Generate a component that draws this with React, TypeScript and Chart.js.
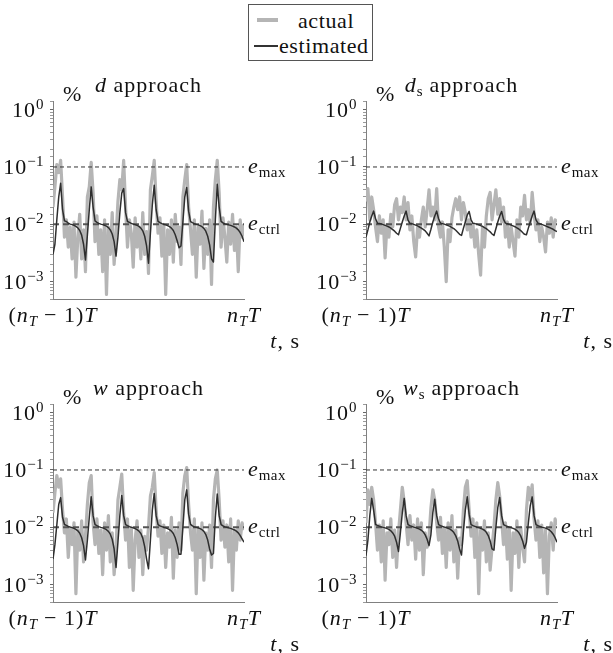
import React, { useEffect, useRef } from 'react';
import { Chart, registerables } from 'chart.js';

Chart.register(...registerables);

// ---- data -------------------------------------------------------------
const SAMPLES = 101;
// uniform time grid over one period, from (n_T - 1)T (0) to n_T T (1)
const TIME: number[] = Array.from({ length: SAMPLES }, (_, i) => i / (SAMPLES - 1));

const E_MAX = 0.1;
const E_CTRL = 0.01;
const Y_MIN = 0.0005;
const Y_MAX = 1.4125;
const Y_LABEL_VALUES = [1, 0.1, 0.01, 0.001];
const Y_LABEL_EXPONENTS = ['0', '\u22121', '\u22122', '\u22123'];

const D_ESTIMATED = [
  0.003, 0.0045, 0.012, 0.03, 0.052, 0.018, 0.0115, 0.0112, 0.0105, 0.0101,
  0.0099, 0.0096, 0.0092, 0.0087, 0.0078, 0.0065, 0.0045, 0.0024, 0.0065, 0.018,
  0.045, 0.02, 0.0115, 0.0108, 0.0104, 0.0101, 0.0099, 0.0096, 0.0093, 0.0088,
  0.008, 0.0068, 0.005, 0.0028, 0.006, 0.016, 0.035, 0.042, 0.016, 0.0112,
  0.0108, 0.0104, 0.0101, 0.0099, 0.0096, 0.0092, 0.0086, 0.0077, 0.0062, 0.0042,
  0.0021, 0.007, 0.022, 0.048, 0.018, 0.0113, 0.0107, 0.0103, 0.01, 0.0098,
  0.0095, 0.0091, 0.0086, 0.0078, 0.0066, 0.0052, 0.0039, 0.0042, 0.011, 0.03,
  0.044, 0.017, 0.0112, 0.0107, 0.0103, 0.01, 0.0098, 0.0095, 0.0091, 0.0085,
  0.0076, 0.0062, 0.0044, 0.0025, 0.0022, 0.012, 0.05, 0.02, 0.0113, 0.0106,
  0.0102, 0.01, 0.0098, 0.0096, 0.0093, 0.009, 0.0086, 0.008, 0.0072, 0.0062,
  0.005,
];
const D_ACTUAL = [
  0.02, 0.045, 0.11, 0.08, 0.13, 0.03, 0.006, 0.012, 0.004, 0.009,
  0.0025, 0.011, 0.0012, 0.006, 0.015, 0.0025, 0.008, 0.0015, 0.03, 0.045,
  0.12, 0.035, 0.005, 0.014, 0.003, 0.008, 0.0015, 0.012, 0.0006, 0.009,
  0.003, 0.016, 0.002, 0.006, 0.025, 0.06, 0.04, 0.13, 0.02, 0.004,
  0.012, 0.007, 0.0018, 0.013, 0.004, 0.009, 0.0025, 0.016, 0.003, 0.0075,
  0.0014, 0.04, 0.07, 0.13, 0.025, 0.007, 0.013, 0.0028, 0.01, 0.0006,
  0.008, 0.003, 0.012, 0.0022, 0.015, 0.005, 0.009, 0.002, 0.03, 0.06,
  0.11, 0.02, 0.008, 0.003, 0.012, 0.0012, 0.009, 0.0045, 0.017, 0.0017,
  0.0085, 0.003, 0.012, 0.0009, 0.02, 0.06, 0.13, 0.035, 0.004, 0.013,
  0.006, 0.0022, 0.011, 0.0045, 0.015, 0.0035, 0.009, 0.0015, 0.012, 0.006,
  0.01,
];

const DS_ESTIMATED = [
  0.006, 0.008, 0.011, 0.014, 0.017, 0.0125, 0.0105, 0.0104, 0.0102, 0.0099,
  0.0096, 0.0093, 0.009, 0.0086, 0.0081, 0.0076, 0.007, 0.0066, 0.0085, 0.011,
  0.014, 0.017, 0.0118, 0.0104, 0.0103, 0.01, 0.0097, 0.0094, 0.009, 0.0086,
  0.0082, 0.0077, 0.007, 0.0063, 0.0082, 0.011, 0.014, 0.017, 0.0125, 0.0105,
  0.0103, 0.0101, 0.0098, 0.0095, 0.0092, 0.0088, 0.0084, 0.0079, 0.0073, 0.0067,
  0.0064, 0.0085, 0.011, 0.0145, 0.0168, 0.012, 0.0104, 0.0103, 0.0101, 0.0098,
  0.0095, 0.0092, 0.0088, 0.0084, 0.0079, 0.0074, 0.0068, 0.0064, 0.0084, 0.011,
  0.014, 0.0168, 0.0122, 0.0105, 0.0103, 0.01, 0.0097, 0.0094, 0.0091, 0.0087,
  0.0083, 0.0078, 0.0072, 0.0067, 0.0066, 0.0086, 0.011, 0.014, 0.017, 0.012,
  0.0105, 0.0103, 0.01, 0.0097, 0.0094, 0.0091, 0.0088, 0.0085, 0.0082, 0.0078,
  0.0075,
];
const DS_ACTUAL = [
  0.025, 0.042, 0.012, 0.03, 0.018, 0.009, 0.005, 0.014, 0.007, 0.012,
  0.0026, 0.01, 0.006, 0.015, 0.009, 0.022, 0.028, 0.012, 0.02, 0.016,
  0.03, 0.012, 0.024, 0.008, 0.014, 0.005, 0.0027, 0.009, 0.006, 0.012,
  0.02, 0.009, 0.018, 0.04, 0.014, 0.02, 0.012, 0.042, 0.009, 0.006,
  0.011, 0.004, 0.001, 0.008, 0.005, 0.013, 0.02, 0.028, 0.018, 0.03,
  0.012, 0.024, 0.016, 0.008, 0.012, 0.006, 0.01, 0.004, 0.008, 0.003,
  0.0013, 0.009, 0.004, 0.014, 0.028, 0.036, 0.012, 0.022, 0.04, 0.015,
  0.028, 0.011, 0.02, 0.006, 0.011, 0.004, 0.009, 0.005, 0.0028, 0.012,
  0.006, 0.02, 0.014, 0.032, 0.012, 0.018, 0.01, 0.036, 0.015, 0.008,
  0.012, 0.005, 0.009, 0.006, 0.0033, 0.011, 0.007, 0.013, 0.006, 0.012,
  0.011,
];

const W_ESTIMATED = [
  0.0028, 0.005, 0.011, 0.025, 0.033, 0.015, 0.0112, 0.0108, 0.0104, 0.0101,
  0.0099, 0.0096, 0.0092, 0.0087, 0.0079, 0.0066, 0.0048, 0.0027, 0.006, 0.015,
  0.034, 0.016, 0.0112, 0.0107, 0.0103, 0.01, 0.0098, 0.0095, 0.0091, 0.0085,
  0.0076, 0.0062, 0.0042, 0.002, 0.0055, 0.016, 0.036, 0.016, 0.0112, 0.0107,
  0.0103, 0.01, 0.0098, 0.0095, 0.0091, 0.0086, 0.0078, 0.0065, 0.0046, 0.0028,
  0.0019, 0.006, 0.02, 0.039, 0.016, 0.0112, 0.0106, 0.0103, 0.01, 0.0098,
  0.0095, 0.0091, 0.0086, 0.0078, 0.0066, 0.005, 0.0034, 0.0034, 0.01, 0.03,
  0.045, 0.017, 0.0113, 0.0106, 0.0102, 0.01, 0.0098, 0.0095, 0.0091, 0.0085,
  0.0075, 0.006, 0.0042, 0.0033, 0.0035, 0.015, 0.038, 0.016, 0.0112, 0.0106,
  0.0102, 0.01, 0.0098, 0.0096, 0.0093, 0.009, 0.0086, 0.008, 0.0072, 0.0063,
  0.0055,
];
const W_ACTUAL = [
  0.018, 0.04, 0.08, 0.05, 0.07, 0.02, 0.008, 0.014, 0.003, 0.01,
  0.005, 0.012, 0.0007, 0.009, 0.004, 0.013, 0.0025, 0.007, 0.025, 0.06,
  0.08, 0.012, 0.005, 0.014, 0.0035, 0.009, 0.0015, 0.012, 0.004, 0.016,
  0.0025, 0.008, 0.0015, 0.004, 0.03, 0.05, 0.085, 0.018, 0.006, 0.014,
  0.002, 0.01, 0.0008, 0.006, 0.013, 0.003, 0.009, 0.0015, 0.007, 0.004,
  0.01, 0.035, 0.05, 0.09, 0.02, 0.007, 0.013, 0.0035, 0.011, 0.002,
  0.008, 0.0045, 0.015, 0.0013, 0.009, 0.003, 0.012, 0.004, 0.04, 0.08,
  0.11, 0.025, 0.008, 0.004, 0.014, 0.0007, 0.01, 0.003, 0.012, 0.0012,
  0.008, 0.004, 0.011, 0.002, 0.03, 0.07, 0.1, 0.03, 0.006, 0.013,
  0.0045, 0.011, 0.0025, 0.014, 0.0008, 0.009, 0.004, 0.013, 0.006, 0.012,
  0.009,
];

const WS_ESTIMATED = [
  0.0032, 0.006, 0.016, 0.032, 0.02, 0.0112, 0.0108, 0.0105, 0.0102, 0.01,
  0.0098, 0.0095, 0.0092, 0.0087, 0.008, 0.007, 0.0055, 0.0038, 0.008, 0.018,
  0.032, 0.016, 0.0112, 0.0107, 0.0104, 0.0101, 0.0099, 0.0096, 0.0093, 0.0089,
  0.0083, 0.0074, 0.0062, 0.0048, 0.0075, 0.018, 0.031, 0.016, 0.0112, 0.0107,
  0.0104, 0.0101, 0.0099, 0.0096, 0.0093, 0.0088, 0.0081, 0.0071, 0.0058, 0.0042,
  0.0033, 0.0085, 0.02, 0.034, 0.017, 0.0112, 0.0107, 0.0104, 0.0101, 0.0099,
  0.0096, 0.0093, 0.0089, 0.0082, 0.0072, 0.0058, 0.0042, 0.004, 0.01, 0.022,
  0.033, 0.016, 0.0112, 0.0107, 0.0104, 0.0101, 0.0099, 0.0096, 0.0093, 0.0088,
  0.0081, 0.0071, 0.0058, 0.0043, 0.0055, 0.012, 0.024, 0.034, 0.016, 0.0112,
  0.0107, 0.0104, 0.0101, 0.0099, 0.0097, 0.0094, 0.009, 0.0084, 0.0076, 0.0066,
  0.0055,
];
const WS_ACTUAL = [
  0.012, 0.045, 0.025, 0.05, 0.03, 0.012, 0.004, 0.011, 0.0025, 0.013,
  0.0012, 0.008, 0.005, 0.014, 0.003, 0.009, 0.002, 0.008, 0.02, 0.05,
  0.028, 0.012, 0.005, 0.016, 0.006, 0.011, 0.0028, 0.014, 0.004, 0.012,
  0.0015, 0.008, 0.0045, 0.007, 0.022, 0.045, 0.03, 0.012, 0.006, 0.015,
  0.0035, 0.01, 0.002, 0.012, 0.004, 0.016, 0.0025, 0.009, 0.0013, 0.0065,
  0.005, 0.02, 0.05, 0.065, 0.02, 0.007, 0.014, 0.003, 0.012, 0.0007,
  0.009, 0.004, 0.013, 0.0025, 0.008, 0.0018, 0.0045, 0.01, 0.03, 0.06,
  0.035, 0.014, 0.005, 0.012, 0.0028, 0.01, 0.0008, 0.008, 0.0035, 0.013,
  0.002, 0.01, 0.0045, 0.0025, 0.02, 0.05, 0.03, 0.055, 0.014, 0.006,
  0.013, 0.003, 0.011, 0.0016, 0.009, 0.0007, 0.007, 0.012, 0.004, 0.014,
  0.011,
];

// ---- rich text helper --------------------------------------------------
type Run = { t: string; it?: boolean; sub?: boolean; sup?: boolean };
const FONT_FAMILY = '"Liberation Serif", "DejaVu Serif", serif';
const BASE_SIZE = 22;
const SMALL_SIZE = 15;

function fontFor(r: Run) {
  const size = r.sub || r.sup ? SMALL_SIZE : BASE_SIZE;
  return `${r.it ? 'italic ' : ''}${size}px ${FONT_FAMILY}`;
}

function spacingFor(r: Run) {
  return r.sub || r.sup ? '0.4px' : '1px';
}

function drawRich(ctx: CanvasRenderingContext2D, runs: Run[], x: number, y: number, align: 'left' | 'center' | 'right') {
  const c = ctx as any;
  let w = 0;
  for (const r of runs) {
    ctx.font = fontFor(r);
    c.letterSpacing = spacingFor(r);
    w += ctx.measureText(r.t).width;
  }
  let cx = align === 'left' ? x : align === 'center' ? x - w / 2 : x - w;
  ctx.textAlign = 'left';
  ctx.textBaseline = 'alphabetic';
  for (const r of runs) {
    ctx.font = fontFor(r);
    c.letterSpacing = spacingFor(r);
    const dy = r.sub ? 4 : r.sup ? -8 : 0;
    ctx.fillText(r.t, cx, y + dy);
    cx += ctx.measureText(r.t).width;
  }
  c.letterSpacing = '0px';
}

const X_LEFT_LABEL: Run[] = [{ t: '(' }, { t: 'n', it: true }, { t: 'T', it: true, sub: true }, { t: ' \u2212 1)' }, { t: 'T', it: true }];
const X_RIGHT_LABEL: Run[] = [{ t: 'n', it: true }, { t: 'T', it: true, sub: true }, { t: 'T', it: true }];
const X_UNIT_LABEL: Run[] = [{ t: 't', it: true }, { t: ', s' }];
const EMAX_LABEL: Run[] = [{ t: 'e', it: true }, { t: 'max', sub: true }];
const ECTRL_LABEL: Run[] = [{ t: 'e', it: true }, { t: 'ctrl', sub: true }];

const PANELS: { title: Run[]; actual: number[]; estimated: number[]; left: number; top: number }[] = [
  { title: [{ t: 'd', it: true }, { t: ' approach' }], actual: D_ACTUAL, estimated: D_ESTIMATED, left: 0, top: 50 },
  { title: [{ t: 'd', it: true }, { t: 's', sub: true }, { t: ' approach' }], actual: DS_ACTUAL, estimated: DS_ESTIMATED, left: 313, top: 50 },
  { title: [{ t: 'w', it: true }, { t: ' approach' }], actual: W_ACTUAL, estimated: W_ESTIMATED, left: 0, top: 353 },
  { title: [{ t: 'w', it: true }, { t: 's', sub: true }, { t: ' approach' }], actual: WS_ACTUAL, estimated: WS_ESTIMATED, left: 313, top: 353 },
];

const CANVAS_W = 306;
const CANVAS_H = 303;

function Panel({ cfg }: { cfg: (typeof PANELS)[number] }) {
  const ref = useRef<HTMLCanvasElement>(null);
  useEffect(() => {
    const textPlugin = {
      id: 'panelText',
      afterDraw(chart: any) {
        const ctx: CanvasRenderingContext2D = chart.ctx;
        const ca = chart.chartArea;
        const xs = chart.scales.x;
        const ys = chart.scales.y;
        ctx.save();
        ctx.fillStyle = '#111';
        Y_LABEL_VALUES.forEach((v, i) => {
          const y = ys.getPixelForValue(v);
          drawRich(ctx, [{ t: '10' }, { t: Y_LABEL_EXPONENTS[i], sup: true }], ca.left - 9, y + 7, 'right');
        });
        const y1 = ys.getPixelForValue(1);
        drawRich(ctx, cfg.title, (ca.left + ca.right) / 2, y1 - 18, 'center');
        drawRich(ctx, [{ t: '%' }], ca.left + 10, y1 - 9, 'left');
        drawRich(ctx, EMAX_LABEL, ca.right + 4, ys.getPixelForValue(E_MAX) + 6, 'left');
        drawRich(ctx, ECTRL_LABEL, ca.right + 4, ys.getPixelForValue(E_CTRL) + 6, 'left');
        drawRich(ctx, X_LEFT_LABEL, xs.getPixelForValue(0), ca.bottom + 23, 'center');
        drawRich(ctx, X_RIGHT_LABEL, xs.getPixelForValue(1), ca.bottom + 23, 'center');
        drawRich(ctx, X_UNIT_LABEL, ca.right + 56, ca.bottom + 49, 'right');
        ctx.restore();
      },
    };
    const line = (vals: number[]) => TIME.map((x, i) => ({ x, y: vals[i] }));
    const flat = (v: number) => [{ x: 0, y: v }, { x: 1, y: v }];
    const chart = new Chart(ref.current!, {
      type: 'line',
      data: {
        datasets: [
          { label: 'e_max', data: flat(E_MAX), borderColor: '#333', borderWidth: 1, borderDash: [4, 3], pointRadius: 0, order: 1 },
          { label: 'estimated', data: line(cfg.estimated), borderColor: '#2e2e2e', borderWidth: 1.5, pointRadius: 0, borderJoinStyle: 'round', order: 2 },
          { label: 'e_ctrl', data: flat(E_CTRL), borderColor: '#555', borderWidth: 2, borderDash: [6, 4], pointRadius: 0, order: 3 },
          { label: 'actual', data: line(cfg.actual), borderColor: '#b5b5b5', borderWidth: 3.2, pointRadius: 0, borderJoinStyle: 'round', order: 4 },
        ] as any,
      },
      options: {
        animation: false,
        responsive: false,
        devicePixelRatio: 1,
        events: [],
        layout: { padding: { left: 53, right: 62, top: 51, bottom: 54 } },
        plugins: { legend: { display: false }, tooltip: { enabled: false } },
        scales: {
          x: {
            type: 'linear',
            min: 0,
            max: 1,
            grid: { display: false },
            border: { display: true, color: '#808080', width: 1 },
            ticks: { display: false },
            afterFit: (s: any) => { s.height = 0; },
          },
          y: {
            type: 'logarithmic',
            min: Y_MIN,
            max: Y_MAX,
            grid: {
              drawOnChartArea: false,
              drawTicks: true,
              tickLength: 3,
              tickColor: (c: any) => {
                const l = Math.log10(c.tick ? c.tick.value : 1);
                return Math.abs(l - Math.round(l)) < 1e-6 ? '#666' : '#9a9a9a';
              },
            },
            border: { display: true, color: '#808080', width: 1 },
            ticks: { display: false },
            afterFit: (s: any) => { s.width = 0; },
          },
        },
      } as any,
      plugins: [textPlugin],
    });
    return () => chart.destroy();
  }, []);
  return (
    <canvas
      ref={ref}
      width={CANVAS_W}
      height={CANVAS_H}
      style={{ position: 'absolute', left: cfg.left, top: cfg.top, width: CANVAS_W, height: CANVAS_H, display: 'block' }}
    />
  );
}

export default function App() {
  const textStyle: React.CSSProperties = {
    position: 'absolute',
    font: `22px ${FONT_FAMILY}`,
    lineHeight: '22px',
    color: '#111',
    whiteSpace: 'nowrap',
    letterSpacing: '0.6px',
  };
  return (
    <div style={{ position: 'fixed', left: 0, top: 0, width: 613, height: 653, overflow: 'hidden', background: '#fff' }}>
      {PANELS.map((p, i) => (
        <Panel key={i} cfg={p} />
      ))}
      <div style={{ position: 'absolute', left: 248, top: 4, width: 123, height: 55, border: '1px solid #555', background: '#fff' }}>
        <div style={{ position: 'absolute', left: 8, top: 13, width: 21, height: 4, background: '#b5b5b5' }} />
        <div style={{ ...textStyle, left: 49, top: 5 }}>actual</div>
        <div style={{ position: 'absolute', left: 5, top: 40, width: 24, height: 2, background: '#333' }} />
        <div style={{ ...textStyle, left: 30, top: 30 }}>estimated</div>
      </div>
    </div>
  );
}
